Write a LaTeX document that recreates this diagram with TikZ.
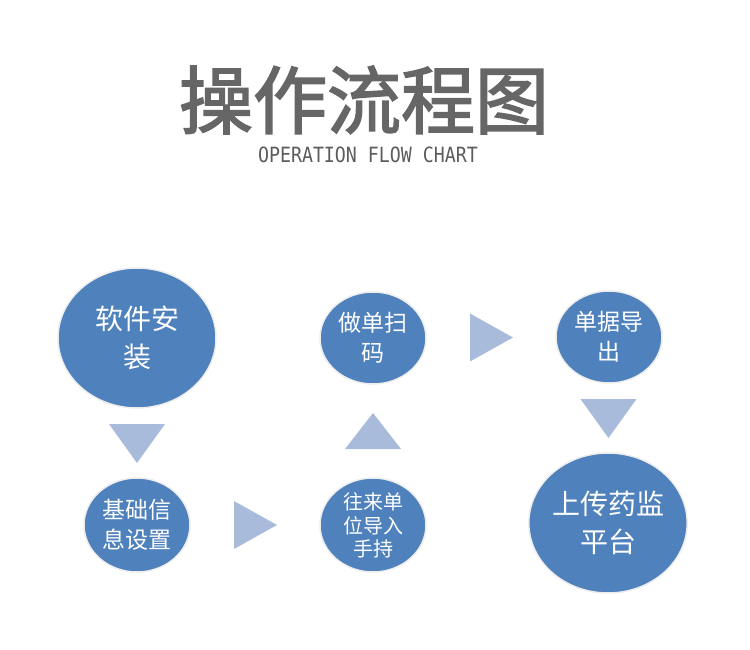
\documentclass[tikz,border=0pt]{standalone}
\usepackage{fontspec}
\usepackage{tikz}
\usetikzlibrary{shapes.geometric, calc}
\newfontfamily\cjk{Noto Sans CJK SC}
\newfontfamily\cjktitle[FakeBold=2.2]{Noto Sans CJK SC}
\newfontfamily\monofont{DejaVu Sans Mono}
\definecolor{stepblue}{HTML}{4F81BD}
\definecolor{arrowblue}{HTML}{A9BBDA}
\definecolor{titlegray}{HTML}{666666}

\begin{document}
\begin{tikzpicture}[x=1pt, y=-1pt]
    \tikzstyle{bubble} = [ellipse, fill=stepblue, draw=black!7, line width=1.5pt, inner sep=0pt, text=white, align=center]
    \tikzstyle{bigbubble} = [bubble, minimum width=158pt, minimum height=140pt, font=\cjk\fontsize{28}{38}\selectfont]
    \tikzstyle{smallbubble} = [bubble, minimum width=106pt, minimum height=94pt, font=\cjk\fontsize{23}{30}\selectfont]
    \tikzstyle{tri} = [fill=arrowblue]
    \useasboundingbox (0,0) rectangle (750,650);

    % title
    \node[text=titlegray, font=\cjktitle\fontsize{74}{74}\selectfont] (title) at (364, 100) {操作流程图};
    \node[text=titlegray!90!black, font=\monofont\fontsize{21}{21}\selectfont] (subtitle) at (368, 155) {\scalebox{0.87}[1]{OPERATION FLOW CHART}};

    % steps
    \node[bigbubble] (soft) at (137, 338) {软件安\\装};
    \node[smallbubble] (base) at (137, 525) {基础信\\息设置};
    \node[smallbubble, font=\cjk\fontsize{20}{23.5}\selectfont, text depth=-3pt] (unit) at (373, 525) {往来单\\位导入\\手持};
    \node[smallbubble, minimum height=92pt] (scan) at (373, 338) {做单扫\\码};
    \node[smallbubble, minimum height=92pt] (export) at (609, 337) {单据导\\出};
    \node[bigbubble] (upload) at (608, 523) {上传药监\\平台};

    % arrows between the steps
    \coordinate (d1) at ($(soft.south)!0.5!(base.north)$);
    \coordinate (r1) at ($(base.east)!0.5!(unit.west)$);
    \coordinate (u1) at ($(unit.north)!0.5!(scan.south)$);
    \coordinate (r2) at ($(scan.east)!0.5!(export.west)$);
    \coordinate (d2) at ($(export.south)!0.5!(upload.north)$);

    \fill[tri] (d1) ++(-28,-19) -- ++(56,0) -- ++(-28,39) -- cycle;
    \fill[tri] (r1) ++(-21,-24) -- ++(0,48) -- ++(43,-24) -- cycle;
    \fill[tri] (u1) ++(-28,18) -- ++(56,0) -- ++(-28,-36) -- cycle;
    \fill[tri] (r2) ++(-21,-24) -- ++(0,48) -- ++(43,-24) -- cycle;
    \fill[tri] (d2) ++(-28,-19) -- ++(56,0) -- ++(-28,39) -- cycle;
\end{tikzpicture}
\end{document}
